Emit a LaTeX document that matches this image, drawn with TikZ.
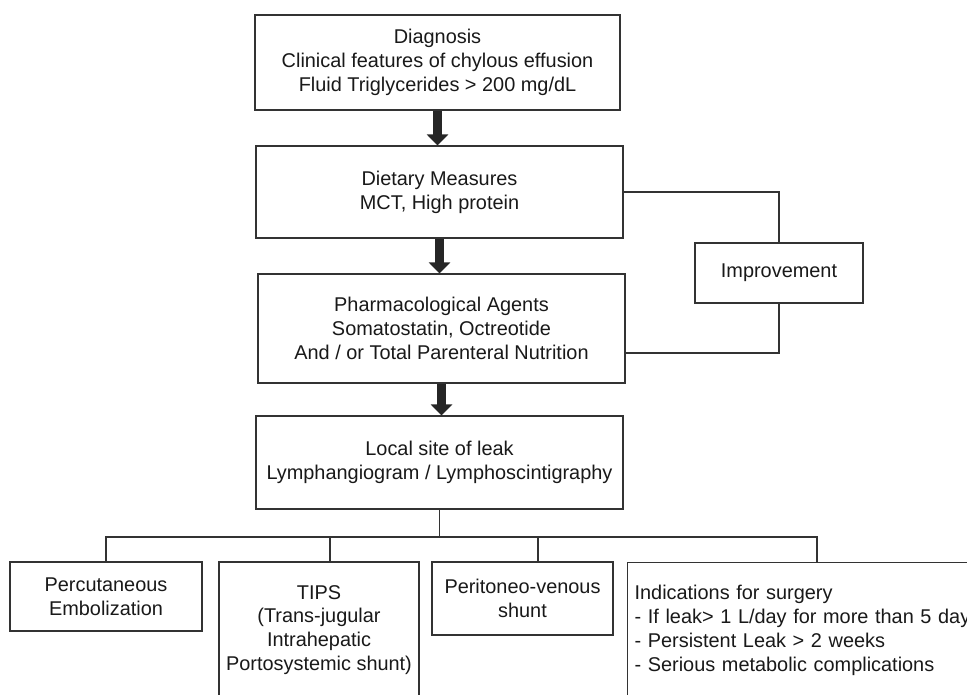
\documentclass[tikz,border=0pt]{standalone}
\usepackage{fontspec}
\setmainfont{Liberation Sans}
\usetikzlibrary{positioning, arrows.meta}

\tikzset{
	box/.style={draw=black!80, line width=1.2pt, fill=white, inner sep=0pt, align=center,
		text=black!90, font=\fontsize{19.9}{23.9}\selectfont},
	link/.style={draw=black!80, line width=1.1pt},
	bigarrow/.style={-{Triangle[width=21pt,length=11pt]}, line width=9pt, black!85}
}

\begin{document}
\begin{tikzpicture}[x=1pt, y=-1pt]
			\useasboundingbox (0,0) rectangle (967,694);
			\clip (0,0) rectangle (967,694);
			
			%% main column
			\node[box, minimum width=365pt, minimum height=95pt] (diag) at (437.5,62.5)
				{Diagnosis\\Clinical features of chylous effusion\\Fluid Triglycerides > 200 mg/dL};
			\node[box, minimum width=367pt, minimum height=92pt] (diet) at (439.5,192)
				{Dietary Measures\\MCT, High protein};
			\node[box, minimum width=367pt, minimum height=109pt] (pharm) at (441.5,328.5)
				{Pharmacological Agents\\Somatostatin, Octreotide\\And / or Total Parenteral Nutrition};
			\node[box, minimum width=367pt, minimum height=93pt] (leak) at (439.5,462.5)
				{Local site of leak\\Lymphangiogram / Lymphoscintigraphy};
			
			%% Improvement
			\node[box, minimum width=168pt, minimum height=60pt] (impr) at (779,273) {Improvement};
			
			%% bottom row
			\node[box, minimum width=192pt, minimum height=69pt] (perc) at (106,596.5)
				{Percutaneous\\Embolization};
			\node[box, minimum width=200pt, minimum height=136pt] (tips) at (319,630)
				{TIPS\\(Trans-jugular\\Intrahepatic\\Portosystemic shunt)};
			\node[box, minimum width=181pt, minimum height=73pt] (peri) at (522.5,598.5)
				{Peritoneo-venous\\shunt};
			\node[box, anchor=north west, align=left, text width=386pt, inner xsep=7pt,
				minimum height=136pt] (surg) at (627,562)
				{Indications for surgery\\- If leak> 1 L/day for more than 5 days\\- Persistent Leak > 2 weeks\\- Serious metabolic complications};
			
			%% thick arrows
			\draw[bigarrow] (diag.south) -- (diag.south |- diet.north);
			\draw[bigarrow] (diet.south) -- (diet.south |- pharm.north);
			\draw[bigarrow] (pharm.south) -- (pharm.south |- leak.north);
			
			%% loop through Improvement
			\draw[link] (diet.east) -| (impr.north);
			\draw[link] (impr.south) |- ([yshift=-24.5pt]pharm.east);
			
			%% branches
			\coordinate (bus) at (437,537);
			\draw[link] (leak.south) -- (leak.south |- bus);
			\draw[link] (perc.north) |- (bus) -| ([xshift=190pt]surg.north west);
			\draw[link] ([xshift=11pt]tips.north) -- ([xshift=11pt]tips.north |- bus);
			\draw[link] ([xshift=15.5pt]peri.north) -- ([xshift=15.5pt]peri.north |- bus);
\end{tikzpicture}
\end{document}
